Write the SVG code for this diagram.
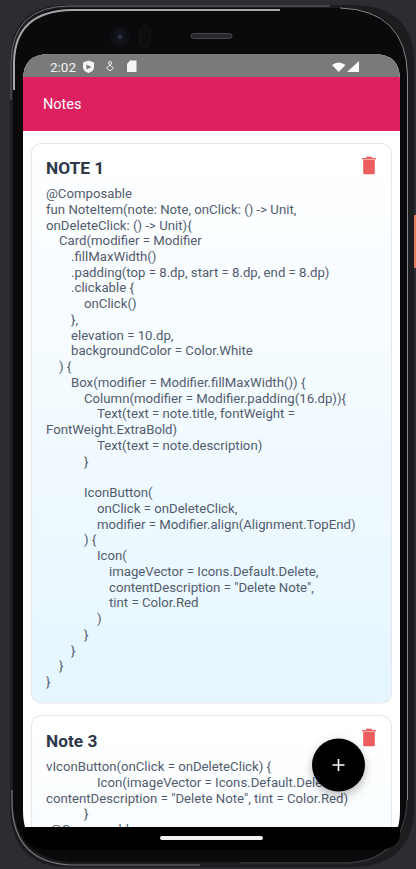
<svg xmlns="http://www.w3.org/2000/svg" width="416" height="869" viewBox="0 0 416 869">
<style>
.c{font-family:Roboto,"Liberation Sans",sans-serif;font-size:13.2px;fill:#525c6e}
.t{font-family:Roboto,"Liberation Sans",sans-serif;font-size:17.3px;font-weight:700;fill:#2d3748}
.card{stroke:#e6e8ea;stroke-width:1.2}
.bin{fill:#eb5d5f}
</style>
<defs>
<linearGradient id="g1" x1="0" y1="0" x2="0" y2="1"><stop offset="0" stop-color="#fff"/><stop offset="1" stop-color="#e5f6ff"/></linearGradient>
<linearGradient id="g2" gradientUnits="userSpaceOnUse" x1="0" y1="715" x2="0" y2="1275"><stop offset="0" stop-color="#fff"/><stop offset="1" stop-color="#e5f6ff"/></linearGradient>
<radialGradient id="lens"><stop offset="0" stop-color="#3a4460"/><stop offset=".3" stop-color="#14161c"/><stop offset="1" stop-color="#0c0d10"/></radialGradient>
<clipPath id="scr"><path d="M25 827Q23 820 23 810V80Q23 54 49 54H374Q400 54 400 80V810Q400 820 398 827Z"/></clipPath>
<filter id="sh" x="-30%" y="-30%" width="160%" height="170%"><feDropShadow dx="0" dy="4" stdDeviation="5" flood-color="#000" flood-opacity=".28"/></filter>
<g id="trash"><rect x="-7" y="-8" width="14" height="1.500" rx=".6"/><rect x="-2.800" y="-9.300" width="5.600" height="2"/><path d="M-5.800-6H5.800V7Q5.800 8.200 4.600 8.200H-4.600Q-5.800 8.200-5.800 7Z"/></g>
</defs>
<rect width="416" height="869" fill="#2b2d30"/>
<g id="device">
<path d="M10 62Q10 5 67 5H350Q414 5 414 62V805Q414 867 352 867H68Q10 867 10 805Z" fill="#1c1d1f"/>
<path d="M13 68Q13 8 72 8H340Q407 8 407 75V800Q407 858 350 862H70Q13 858 13 800Z" fill="#0a0a0c"/>
<path d="M14 90V62Q15 11 72 10H280" fill="none" stroke="#a5a7a9" stroke-width="2"/>
<path d="M11 100V62Q12 6 70 6H330" fill="none" stroke="#6b6d70" stroke-width="1"/>
<path d="M340 8Q406 10 407.500 75V800" fill="none" stroke="#86888b" stroke-width="1"/>
<path d="M12 790V805Q14 862 70 865H200" fill="none" stroke="#77797c" stroke-width="1.200"/>
<path d="M407 800Q405 858 350 863H240" fill="none" stroke="#3c3e41" stroke-width="1.200"/>
<rect x="414" y="215" width="2" height="53" fill="#e57b5d"/>
<circle cx="120" cy="37" r="10" fill="url(#lens)"/>
<rect x="140" y="26" width="10" height="21" rx="5" fill="#0c0d0f" stroke="#17181b"/>
<rect x="191" y="33.500" width="41" height="5" rx="2.500" fill="#26282b" stroke="#45474a"/>
<path d="M23 827H400V835Q398 850 375 850H52Q28 850 23 835Z" fill="#000"/>
</g>
<g id="screen" clip-path="url(#scr)">
<rect x="23" y="54" width="377" height="773" fill="#fff"/>
<rect x="23" y="54" width="377" height="24" fill="#7a7a7a"/>
<rect x="23" y="77" width="377" height="54" fill="#dd2060"/>
<g id="card1">
<rect class="card" x="31.500" y="143.500" width="360" height="559.500" rx="10" fill="url(#g1)"/>
<text class="t" x="46" y="174">NOTE 1</text>
<text class="c" xml:space="preserve"><tspan x="46" y="198">@Composable</tspan><tspan x="46" y="213.700">fun NoteItem(note: Note, onClick: () -&gt; Unit,</tspan><tspan x="46" y="229.500">onDeleteClick: () -&gt; Unit){</tspan><tspan x="59" y="245.200">Card(modifier = Modifier</tspan><tspan x="71" y="261">.fillMaxWidth()</tspan><tspan x="71" y="276.700">.padding(top = 8.dp, start = 8.dp, end = 8.dp)</tspan><tspan x="71" y="292.400">.clickable {</tspan><tspan x="84" y="308.200">onClick()</tspan><tspan x="71" y="323.900">},</tspan><tspan x="71" y="339.700">elevation = 10.dp,</tspan><tspan x="71" y="355.400">backgroundColor = Color.White</tspan><tspan x="59" y="371.100">) {</tspan><tspan x="71" y="386.900">Box(modifier = Modifier.fillMaxWidth()) {</tspan><tspan x="84" y="402.600">Column(modifier = Modifier.padding(16.dp)){</tspan><tspan x="97" y="418.400">Text(text = note.title, fontWeight =</tspan><tspan x="46" y="434.100">FontWeight.ExtraBold)</tspan><tspan x="97" y="449.800">Text(text = note.description)</tspan><tspan x="84" y="465.600">}</tspan><tspan x="84" y="497.100">IconButton(</tspan><tspan x="97" y="512.800">onClick = onDeleteClick,</tspan><tspan x="97" y="528.500">modifier = Modifier.align(Alignment.TopEnd)</tspan><tspan x="84" y="544.300">) {</tspan><tspan x="97" y="560">Icon(</tspan><tspan x="109" y="575.800">imageVector = Icons.Default.Delete,</tspan><tspan x="109" y="591.500">contentDescription = "Delete Note",</tspan><tspan x="109" y="607.200">tint = Color.Red</tspan><tspan x="97" y="623">)</tspan><tspan x="84" y="638.700">}</tspan><tspan x="71" y="654.500">}</tspan><tspan x="59" y="670.200">}</tspan><tspan x="46" y="686">}</tspan></text>
<use href="#trash" class="bin" x="369" y="166"/>
</g>
<g id="card2">
<rect class="card" x="31.500" y="715.500" width="360" height="559.500" rx="10" fill="url(#g2)"/>
<text class="t" x="46" y="747">Note 3</text>
<text class="c" xml:space="preserve"><tspan x="46" y="771">vIconButton(onClick = onDeleteClick) {</tspan><tspan x="97" y="787">Icon(imageVector = Icons.Default.Delete,</tspan><tspan x="46" y="802.500">contentDescription = "Delete Note", tint = Color.Red)</tspan><tspan x="84" y="818">}</tspan><tspan x="50" y="834">@Composable</tspan></text>
<use href="#trash" class="bin" x="369" y="738"/>
</g>
</g>
<g id="status">
<text x="50" y="72" font-family="Roboto,'Liberation Sans',sans-serif" font-size="13.500" fill="#f2f2f2">2:02</text>
<path d="M88.500 60.500L94 62.500V67.500Q93.500 71.500 88.500 73Q83.500 71.500 83 67.500V62.500Z" fill="#f5f5f5"/>
<path d="M91.500 67L86.500 69.500V64.500Z" fill="#7a7a7a"/>
<circle cx="110" cy="63" r="1.500" fill="none" stroke="#eee"/><path d="M110 65L113.500 68L110 71L106.500 68Z" fill="none" stroke="#eee"/>
<path d="M130 60.500H136.500V72H127V64Z" fill="#f5f5f5"/>
<path d="M332 65Q338.500 60 345.500 65L338.700 72Z" fill="#fafafa"/>
<path d="M359 61V72H347Z" fill="#fafafa"/>
</g>
<text id="title" x="43" y="109" font-family="Roboto,'Liberation Sans',sans-serif" font-size="14.500" fill="#fff">Notes</text>
<rect id="homebar" x="160" y="836" width="103" height="4" rx="2" fill="#f2f2f2"/>
<g id="fab">
<circle cx="338.500" cy="765" r="26.500" fill="#000" filter="url(#sh)"/>
<path d="M338.500 759V771M332.500 765H344.500" stroke="#fff" stroke-width="1.600"/>
</g>
</svg>
